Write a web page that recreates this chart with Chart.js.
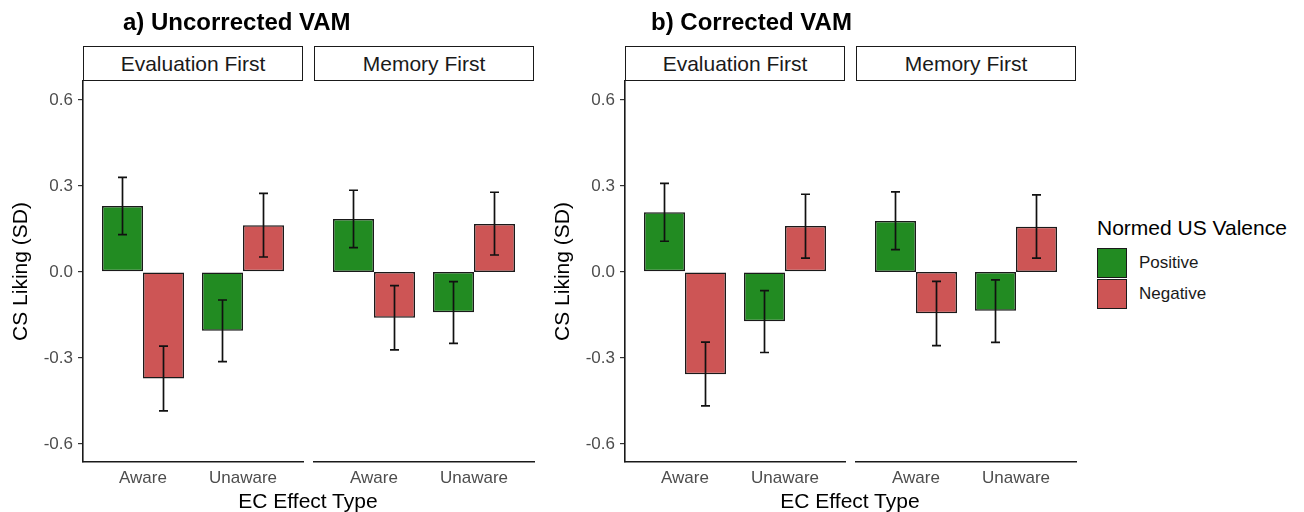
<!DOCTYPE html>
<html>
<head>
<meta charset="utf-8">
<script src="https://cdn.jsdelivr.net/npm/chart.js@4.4.1/dist/chart.umd.min.js"></script>
<style>
  body { margin: 0; background: #fff; font-family: 'Liberation Sans', Arial, sans-serif; }
  #page { position: relative; width: 1304px; height: 512px; overflow: hidden; background: #fff; }
  .facet { position: absolute; top: 0; height: 512px; }
  .strip {
    position: absolute; top: 46px; height: 35px; width: 220px; box-sizing: border-box;
    border: 1.5px solid #1a1a1a; background: #fff; z-index: 2;
    display: flex; align-items: center; justify-content: center;
    font-size: 21px; color: #1a1a1a;
  }
  .title { position: absolute; top: 10px; font-size: 24px; line-height: 24px; font-weight: bold; color: #000; z-index: 2; }
  .xtitle { position: absolute; top: 490px; width: 300px; text-align: center; font-size: 21px; line-height: 21px; color: #000; z-index: 2; }
  #legend { position: absolute; left: 1097px; top: 217px; z-index: 2; }
  #legend .ltitle { font-size: 21px; line-height: 21px; color: #000; margin-bottom: 10px; }
  #legend .item { display: flex; align-items: center; height: 30.5px; }
  #legend .key { width: 30px; height: 30px; box-sizing: border-box; border: 1.5px solid #1a1a1a; margin-right: 12px; }
  #legend .lab { font-size: 17px; color: #1a1a1a; }
</style>
</head>
<body>
<div id="page"></div>
<script>
const categories = ['Aware', 'Unaware'];
const facets = ['Evaluation First', 'Memory First'];
const groups = ['Positive', 'Negative'];
const yTicks = [-0.6, -0.3, 0, 0.3, 0.6];

// order: Eval/Aware, Eval/Unaware, Memory/Aware, Memory/Unaware
const uncorrPositive   = [0.230, -0.205, 0.185, -0.141];
const uncorrPositiveLo = [0.130, -0.313, 0.085, -0.249];
const uncorrPositiveHi = [0.330, -0.098, 0.285, -0.034];
const uncorrNegative   = [-0.372, 0.163, -0.160, 0.167];
const uncorrNegativeLo = [-0.485, 0.052, -0.272, 0.059];
const uncorrNegativeHi = [-0.259, 0.274, -0.048, 0.278];

const corrPositive   = [0.208, -0.172, 0.178, -0.135];
const corrPositiveLo = [0.107, -0.281, 0.078, -0.246];
const corrPositiveHi = [0.309, -0.065, 0.279, -0.028];
const corrNegative   = [-0.357, 0.160, -0.144, 0.158];
const corrNegativeLo = [-0.467, 0.048, -0.257, 0.048];
const corrNegativeHi = [-0.245, 0.271, -0.033, 0.269];

const GREEN = '#228B22';
const RED = '#CD5555';
const INK = '#1a1a1a';

Chart.defaults.font.family = "'Liberation Sans', Arial, sans-serif";
Chart.defaults.animation = false;

// draws the +/- error bars over each bar
const errorBars = {
  id: 'errorBars',
  afterDatasetsDraw(chart) {
    const ctx = chart.ctx;
    const y = chart.scales.y;
    chart.data.datasets.forEach((ds, di) => {
      chart.getDatasetMeta(di).data.forEach((bar, i) => {
        const top = y.getPixelForValue(ds.errHi[i]);
        const bottom = y.getPixelForValue(ds.errLo[i]);
        ctx.save();
        ctx.strokeStyle = '#111';
        ctx.lineWidth = 1.7;
        ctx.beginPath();
        ctx.moveTo(bar.x, top); ctx.lineTo(bar.x, bottom);
        ctx.moveTo(bar.x - 4.5, top); ctx.lineTo(bar.x + 4.5, top);
        ctx.moveTo(bar.x - 4.5, bottom); ctx.lineTo(bar.x + 4.5, bottom);
        ctx.stroke();
        ctx.restore();
      });
    });
  }
};

const page = document.getElementById('page');

function addDiv(cls, style, text) {
  const d = document.createElement('div');
  d.className = cls;
  Object.assign(d.style, style);
  if (text) d.textContent = text;
  page.appendChild(d);
  return d;
}

function makeFacet(panelLeft, f, showY, pos, posLo, posHi, neg, negLo, negHi) {
  const idx = [2 * f, 2 * f + 1];
  const left = showY ? panelLeft : panelLeft + 310;
  const width = showY ? 307 : 228;
  const box = addDiv('facet', { left: left + 'px', width: width + 'px' });
  const canvas = document.createElement('canvas');
  box.appendChild(canvas);

  new Chart(canvas, {
    type: 'bar',
    data: {
      datasets: [
        {
          label: groups[0],
          data: idx.map((k, i) => ({ x: i + 1, y: pos[k] })),
          errLo: idx.map(k => posLo[k]),
          errHi: idx.map(k => posHi[k]),
          backgroundColor: GREEN
        },
        {
          label: groups[1],
          data: idx.map((k, i) => ({ x: i + 1, y: neg[k] })),
          errLo: idx.map(k => negLo[k]),
          errHi: idx.map(k => negHi[k]),
          backgroundColor: RED
        }
      ]
    },
    options: {
      responsive: true,
      maintainAspectRatio: false,
      layout: { padding: { top: 81, bottom: 0, left: showY ? 0 : 4, right: 4 } },
      datasets: {
        bar: {
          borderColor: INK,
          borderWidth: 1.5,
          borderSkipped: false,
          categoryPercentage: 0.82,
          barPercentage: 1.0
        }
      },
      plugins: { legend: { display: false }, tooltip: { enabled: false } },
      scales: {
        x: {
          type: 'linear',
          offset: false,
          min: 0.4,
          max: 2.6,
          afterBuildTicks: s => { s.ticks = categories.map((c, i) => ({ value: i + 1 })); },
          afterFit: s => { s.height = 50; },
          grid: { display: false, drawTicks: false, offset: false },
          border: { display: true, color: INK, width: 1.6 },
          ticks: {
            padding: 6,
            color: '#4d4d4d',
            font: { size: 17 },
            autoSkip: false,
            maxRotation: 0,
            minRotation: 0,
            callback: (v, i) => categories[i]
          }
        },
        y: {
          display: showY,
          min: -0.663,
          max: 0.666,
          afterBuildTicks: s => { s.ticks = yTicks.map(v => ({ value: v })); },
          afterFit: s => { s.width = showY ? 83 : 0; },
          grid: { display: true, drawOnChartArea: false, drawTicks: true, tickLength: 5, color: '#333', lineWidth: 1.2 },
          border: { display: true, color: INK, width: 1.6 },
          ticks: {
            padding: 5,
            color: '#4d4d4d',
            font: { size: 17 },
            callback: v => Number(v).toFixed(1)
          },
          title: {
            display: true,
            text: 'CS Liking (SD)',
            color: '#000',
            font: { size: 21 },
            padding: { top: 9, bottom: 0 }
          }
        }
      }
    },
    plugins: [errorBars]
  });

  addDiv('strip', { left: (panelLeft + (showY ? 83 : 314)) + 'px' }, facets[f]);
}

const panels = [
  { left: 0, title: 'a) Uncorrected VAM', titleX: 123,
    pos: uncorrPositive, posLo: uncorrPositiveLo, posHi: uncorrPositiveHi,
    neg: uncorrNegative, negLo: uncorrNegativeLo, negHi: uncorrNegativeHi },
  { left: 542, title: 'b) Corrected VAM', titleX: 651,
    pos: corrPositive, posLo: corrPositiveLo, posHi: corrPositiveHi,
    neg: corrNegative, negLo: corrNegativeLo, negHi: corrNegativeHi }
];

panels.forEach(p => {
  facets.forEach((name, f) => {
    makeFacet(p.left, f, f === 0, p.pos, p.posLo, p.posHi, p.neg, p.negLo, p.negHi);
  });
  addDiv('title', { left: p.titleX + 'px' }, p.title);
  addDiv('xtitle', { left: (p.left + 308 - 150) + 'px' }, 'EC Effect Type');
});

// legend
const legend = addDiv('', {}, '');
legend.id = 'legend';
const lt = document.createElement('div');
lt.className = 'ltitle';
lt.textContent = 'Normed US Valence';
legend.appendChild(lt);
[GREEN, RED].forEach((c, i) => {
  const item = document.createElement('div');
  item.className = 'item';
  const key = document.createElement('div');
  key.className = 'key';
  key.style.background = c;
  const lab = document.createElement('div');
  lab.className = 'lab';
  lab.textContent = groups[i];
  item.appendChild(key);
  item.appendChild(lab);
  legend.appendChild(item);
});
</script>
</body>
</html>
